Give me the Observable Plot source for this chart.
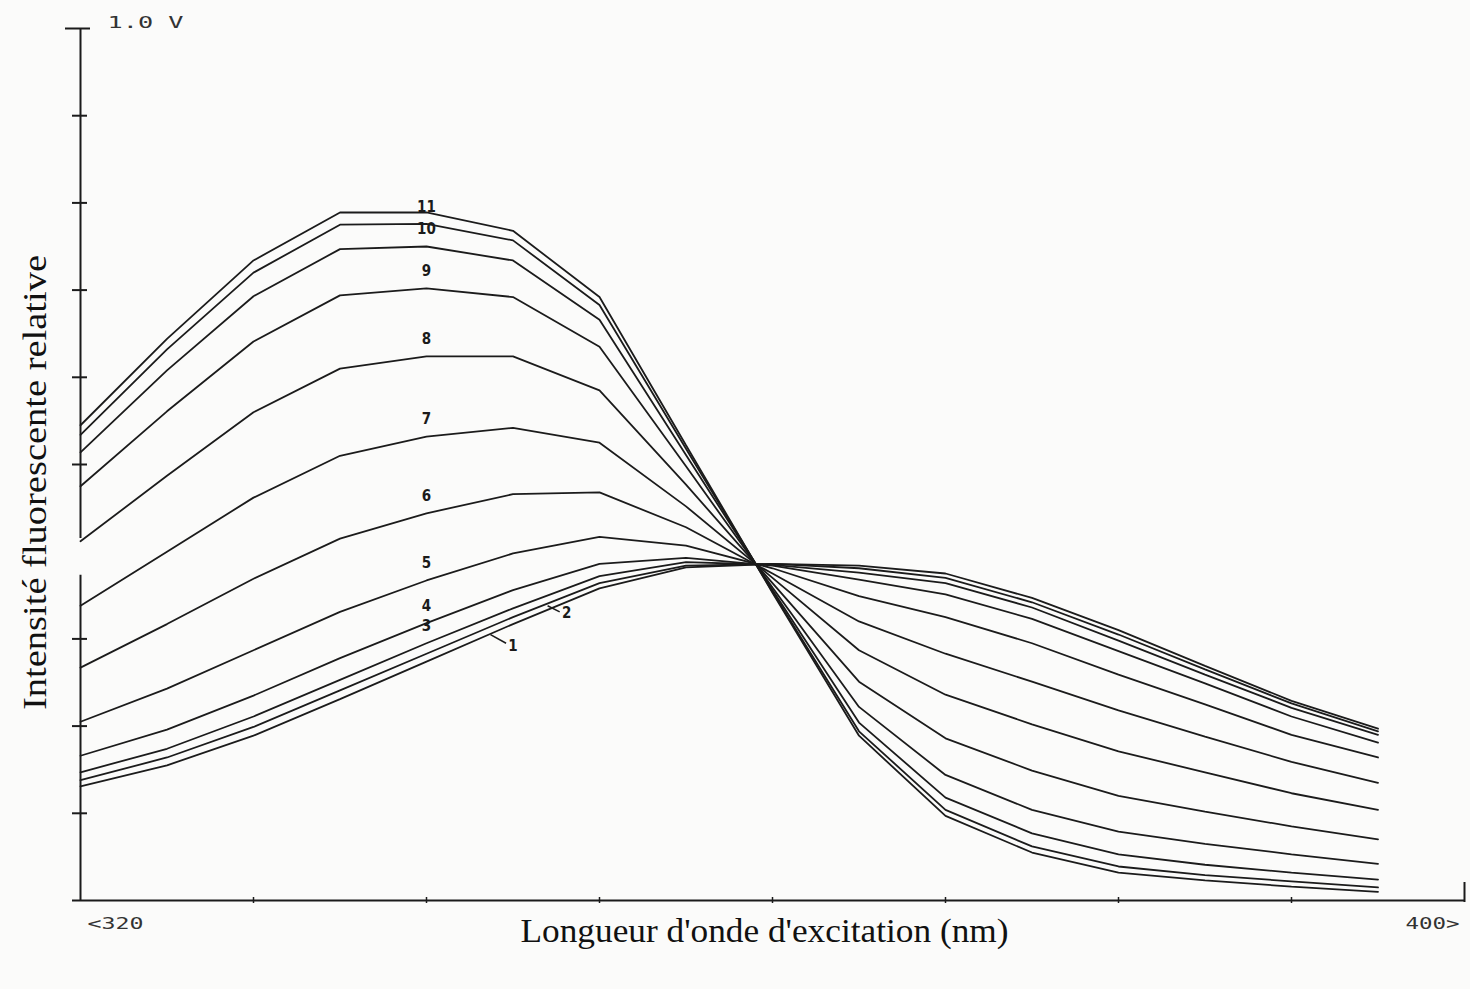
<!DOCTYPE html>
<html>
<head>
<meta charset="utf-8">
<script src="https://cdn.jsdelivr.net/npm/d3@7"></script>
<script src="https://cdn.jsdelivr.net/npm/@observablehq/plot@0.6"></script>
<style>
  html, body { margin: 0; padding: 0; background: #fbfbfa; overflow: hidden; }
  #chart svg { display: block; }
</style>
</head>
<body>
<div id="chart"></div>
<script>
// Excitation wavelengths (nm)
const wavelengths = [320, 325, 330, 335, 340, 345, 350, 355, 360, 365, 370, 375, 380, 385, 390, 395];

// Relative fluorescence intensity (V), one array per curve
const c1  = [0.131, 0.155, 0.189, 0.231, 0.274, 0.317, 0.358, 0.382, 0.386, 0.384, 0.375, 0.347, 0.310, 0.269, 0.229, 0.197];
const c2  = [0.138, 0.164, 0.199, 0.241, 0.283, 0.325, 0.364, 0.384, 0.386, 0.381, 0.370, 0.342, 0.305, 0.265, 0.226, 0.194];
const c3  = [0.147, 0.174, 0.211, 0.253, 0.295, 0.335, 0.372, 0.388, 0.385, 0.376, 0.364, 0.336, 0.298, 0.259, 0.221, 0.190];
const c4  = [0.166, 0.196, 0.235, 0.278, 0.318, 0.356, 0.386, 0.393, 0.384, 0.368, 0.351, 0.323, 0.286, 0.249, 0.211, 0.181];
const c5  = [0.205, 0.243, 0.287, 0.331, 0.367, 0.398, 0.417, 0.407, 0.381, 0.349, 0.325, 0.295, 0.259, 0.225, 0.190, 0.164];
const c6  = [0.267, 0.317, 0.369, 0.415, 0.444, 0.466, 0.468, 0.428, 0.375, 0.320, 0.283, 0.251, 0.218, 0.188, 0.159, 0.135];
const c7  = [0.338, 0.400, 0.462, 0.510, 0.532, 0.542, 0.525, 0.452, 0.370, 0.287, 0.236, 0.202, 0.171, 0.147, 0.123, 0.104];
const c8  = [0.412, 0.487, 0.560, 0.610, 0.624, 0.624, 0.585, 0.477, 0.364, 0.251, 0.186, 0.149, 0.120, 0.102, 0.085, 0.070];
const c9  = [0.475, 0.561, 0.641, 0.694, 0.702, 0.692, 0.635, 0.498, 0.359, 0.222, 0.144, 0.104, 0.079, 0.065, 0.053, 0.042];
const c10 = [0.514, 0.608, 0.693, 0.747, 0.750, 0.734, 0.666, 0.511, 0.356, 0.204, 0.118, 0.077, 0.053, 0.041, 0.032, 0.024];
const c11 = [0.534, 0.632, 0.720, 0.775, 0.776, 0.757, 0.683, 0.518, 0.354, 0.194, 0.104, 0.062, 0.039, 0.029, 0.022, 0.015];
const c12 = [0.545, 0.644, 0.734, 0.789, 0.789, 0.768, 0.692, 0.522, 0.353, 0.189, 0.097, 0.055, 0.032, 0.023, 0.016, 0.010];

const seriesNames  = ["1", "2", "3", "4", "5", "6", "7", "8", "9", "10", "11", "12"];
const seriesValues = [c1, c2, c3, c4, c5, c6, c7, c8, c9, c10, c11, c12];

// Axes
const yTicks = [0.1, 0.2, 0.3, 0.5, 0.6, 0.7, 0.8, 0.9];
const yTopTick = [1.0];
const xTicks = [330, 340, 350, 360, 370, 380, 390];
const xEndTick = [400];
const xStartLabel = [{wl: 320, label: "<320"}];
const xEndLabel = [{wl: 400, label: "400>"}];
const yUnitLabel = "1.0 V";
const yAxisSegments = [{y1: 0, y2: 0.373}, {y1: 0.415, y2: 1}];
const xTitle = "Longueur d'onde d'excitation (nm)";
const yTitle = "Intensité fluorescente relative";

// Curve labels written above the curves at 340 nm
const curveLabels = ["3", "4", "5", "6", "7", "8", "9", "10", "11"];
const labelWavelength = 340;
// Labels with leader lines
const leaderLabels = [
  {text: "1", wl: 345.0, v: 0.292, fromWl: 343.7, fromV: 0.305, toWl: 344.6, toV: 0.295},
  {text: "2", wl: 348.1, v: 0.329, fromWl: 347.0, fromV: 0.338, toWl: 347.7, toV: 0.331}
];

const rows = seriesNames.flatMap((s, i) => wavelengths.map((w, j) => ({series: s, wl: w, v: seriesValues[i][j]})));
const labelRows = curveLabels.map(s => ({
  text: s,
  wl: labelWavelength,
  v: seriesValues[seriesNames.indexOf(s)][wavelengths.indexOf(labelWavelength)]
}));

const ink = "#1b1b1b";
const plotter = "'DejaVu Sans Mono', monospace";
const serif = "'Liberation Serif', 'DejaVu Serif', serif";
const labelFont = "'DejaVu Sans Condensed', 'DejaVu Sans', sans-serif";

const chart = Plot.plot({
  width: 1470,
  height: 989,
  marginLeft: 80,
  marginRight: 6,
  marginTop: 28,
  marginBottom: 89,
  style: {background: "transparent", overflow: "visible"},
  x: {domain: [320, 400], axis: null},
  y: {domain: [0, 1], axis: null},
  marks: [
    // axis lines
    Plot.ruleY([0], {stroke: ink, strokeWidth: 2, insetLeft: -8}),
    Plot.ruleX(yAxisSegments, {x: 320, y1: "y1", y2: "y2", stroke: ink, strokeWidth: 2}),
    // ticks
    Plot.ruleY(yTicks, {y: d => d, x1: 320, x2: 320, insetLeft: -8, insetRight: -7, stroke: ink, strokeWidth: 2}),
    Plot.ruleY(yTopTick, {y: d => d, x1: 320, x2: 320, insetLeft: -15, insetRight: -10, stroke: ink, strokeWidth: 2}),
    Plot.ruleX(xTicks, {x: d => d, y1: 0, y2: 0, insetTop: -3, insetBottom: -3, stroke: ink, strokeWidth: 1.5}),
    Plot.ruleX(xEndTick, {x: d => d, y1: 0, y2: 0, insetTop: -18, insetBottom: -2, stroke: ink, strokeWidth: 2}),
    // curves
    Plot.line(rows, {x: "wl", y: "v", z: "series", stroke: ink, strokeWidth: 1.8, strokeLinejoin: "miter"}),
    // curve labels
    Plot.text(labelRows, {x: "wl", y: "v", text: "text", dy: -17, fill: ink, fontSize: 15, fontWeight: "bold", fontFamily: labelFont}),
    Plot.link(leaderLabels, {x1: "fromWl", y1: "fromV", x2: "toWl", y2: "toV", stroke: ink, strokeWidth: 1.5}),
    Plot.text(leaderLabels, {x: "wl", y: "v", text: "text", fill: ink, fontSize: 15, fontWeight: "bold", fontFamily: labelFont}),
    // tick labels
    Plot.text(xStartLabel, {x: "wl", y: 0, text: "label", textAnchor: "start", dy: 23, dx: 7, fill: "#333", fontSize: 16, fontFamily: plotter}),
    Plot.text(xEndLabel, {x: "wl", y: 0, text: "label", textAnchor: "end", dy: 23, dx: -5, fill: "#333", fontSize: 16, fontFamily: plotter}),
    Plot.text([yUnitLabel], {x: 320, y: 1, text: d => d, textAnchor: "start", dx: 27, dy: -5, fill: "#333", fontSize: 15, fontFamily: plotter}),
    // axis titles
    Plot.text([xTitle], {frameAnchor: "bottom", text: d => d, textAnchor: "middle", dy: 41, dx: -8, fill: "#111", fontSize: 33, fontFamily: serif}),
    Plot.text([yTitle], {frameAnchor: "left", text: d => d, textAnchor: "middle", rotate: -90, dx: -45, dy: 18, fill: "#111", fontSize: 33, fontFamily: serif})
  ]
});

document.getElementById("chart").appendChild(chart);

// Fit text lengths to the reference
const fits = {
  [xTitle]: 488,
  [yTitle]: 455,
  "<320": 56,
  "400>": 54,
  [yUnitLabel]: 76
};
chart.querySelectorAll("text").forEach(t => {
  const s = t.textContent;
  if (fits[s]) {
    t.setAttribute("textLength", fits[s]);
    t.setAttribute("lengthAdjust", "spacingAndGlyphs");
  }
});
</script>
</body>
</html>
